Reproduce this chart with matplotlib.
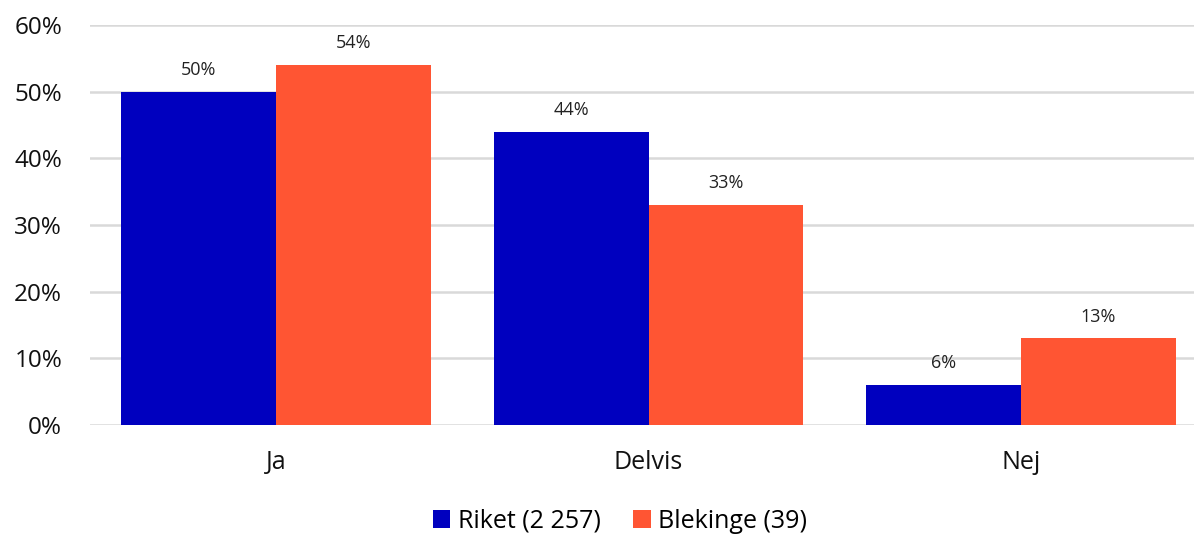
import matplotlib
matplotlib.use("Agg")
import matplotlib.pyplot as plt
import numpy as np
from matplotlib.ticker import FuncFormatter

plt.rcParams['font.family'] = ['Open Sans', 'DejaVu Sans']

categories = ["Ja", "Delvis", "Nej"]
riket = [50, 44, 6]
blekinge = [54, 33, 13]
labels_riket = ["50%", "44%", "6%"]
labels_blekinge = ["54%", "33%", "13%"]
series_names = ["Riket (2 257)", "Blekinge (39)"]

W, H = 1194, 535
fig = plt.figure(figsize=(W/100, H/100), dpi=100)
left = 90 / W
bottom = 1 - 425 / H
top = 1 - 25 / H
right_px = 1207
ax = fig.add_axes([left, bottom, (right_px - 90) / W, top - bottom])

x = np.arange(len(categories))
bw = 155 / 372.5
blue = "#0000BF"
orange = "#FF5533"
b1 = ax.bar(x - bw/2, riket, bw, color=blue, label=series_names[0], zorder=3)
b2 = ax.bar(x + bw/2, blekinge, bw, color=orange, label=series_names[1], zorder=3)

for rect, lab in zip(b1, labels_riket):
    ax.annotate(lab, (rect.get_x() + rect.get_width()/2, rect.get_height()),
                xytext=(0, 9), textcoords="offset points", ha="center", va="bottom",
                fontsize=13, color="#222222")
for rect, lab in zip(b2, labels_blekinge):
    ax.annotate(lab, (rect.get_x() + rect.get_width()/2, rect.get_height()),
                xytext=(0, 9), textcoords="offset points", ha="center", va="bottom",
                fontsize=13, color="#222222")

ax.set_xlim(-0.5, 2.5)
ax.set_ylim(0, 60)
ax.set_yticks(range(0, 61, 10))
ax.yaxis.set_major_formatter(FuncFormatter(lambda v, p: f"{int(v)}%"))
ax.set_xticks(x)
ax.set_xticklabels(categories)
ax.tick_params(axis='both', length=0, colors="#111111")
ax.tick_params(axis='y', pad=20, labelsize=17.5)
ax.tick_params(axis='x', pad=18, labelsize=18)
ax.grid(axis='y', color="#d9d9d9", linewidth=1.8, zorder=0)
for s in ax.spines.values():
    s.set_visible(False)

fig.legend(handles=[b1, b2], loc="center", bbox_to_anchor=(620 / W, 1 - 521 / H),
           ncol=2, frameon=False, fontsize=18, handlelength=0.7, handleheight=0.7,
           handletextpad=0.3, columnspacing=1.3)

fig.savefig("out.png", dpi=100)
